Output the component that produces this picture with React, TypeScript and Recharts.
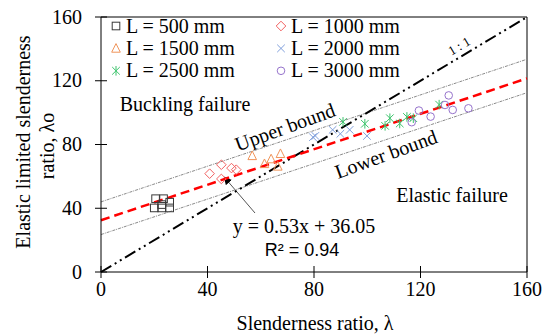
import * as React from "react";
import {
  ScatterChart,
  Scatter,
  XAxis,
  YAxis,
  ReferenceLine,
} from "recharts";

type Pt = [number, number];

// measured points, [slenderness ratio, elastic limited slenderness ratio]
const l500: Pt[] = [[20.5, 46], [23.5, 46], [20, 40.2], [22.8, 42.3], [25.8, 43.8], [25.8, 40.2], [22.8, 40.2]];
const l1000: Pt[] = [[40.8, 61.7], [45.2, 67.3], [45.2, 58.4], [49, 65.2], [50.8, 64.2]];
const l1500: Pt[] = [[56.8, 72.9], [61.4, 67.9], [63.9, 70.9], [67.4, 74.2], [66.4, 66.3]];
const l2000: Pt[] = [[79.6, 84.6], [80.5, 85.4], [87, 89.2], [89.9, 86.7], [93.4, 89.2], [99.9, 85.4]];
const l2500: Pt[] = [[90.9, 94.2], [99.1, 93], [106.7, 91.7], [108.5, 96.5], [112.2, 93.2], [114.9, 97.3], [117.3, 96.5], [127, 105]];
const l3000: Pt[] = [[116.7, 94], [119.4, 101.3], [123.8, 97.5], [129.2, 104.8], [130.6, 110.8], [132.1, 101.7], [138, 102.7]];

// lines as drawn in the figure
const oneToOne: Pt[] = [[0, 0], [160, 160]];
const fitLine: Pt[] = [[0, 32.5], [160, 121.5]];
const upperBound: Pt[] = [[0, 44], [160, 133.5]];
const lowerBound: Pt[] = [[0, 23.5], [160, 112.5]];

const xTicks = [0, 40, 80, 120, 160];
const yTicks = [0, 40, 80, 120, 160];

const serif = "'Liberation Serif', 'Times New Roman', serif";

const toData = (pts: Pt[]) => pts.map(([x, y]) => ({ x, y }));
const seg = (pts: Pt[]) => pts.map(([x, y]) => ({ x, y }));

type MarkerKind = "square" | "diamond" | "triangle" | "cross" | "star" | "circle";

function Marker({ kind, cx, cy, color }: { kind: MarkerKind; cx: number; cy: number; color: string }) {
  const r = 3.8;
  const common = { fill: "none", stroke: color, strokeWidth: 1 };
  switch (kind) {
    case "square":
      return <rect x={cx - r} y={cy - r} width={r * 2} height={r * 2} {...common} />;
    case "diamond":
      return (
        <polygon
          points={`${cx},${cy - r - 1} ${cx + r + 1},${cy} ${cx},${cy + r + 1} ${cx - r - 1},${cy}`}
          {...common}
        />
      );
    case "triangle":
      return (
        <polygon points={`${cx},${cy - r - 1} ${cx + r + 0.5},${cy + r} ${cx - r - 0.5},${cy + r}`} {...common} />
      );
    case "cross":
      return (
        <g {...common}>
          <line x1={cx - r} y1={cy - r} x2={cx + r} y2={cy + r} />
          <line x1={cx - r} y1={cy + r} x2={cx + r} y2={cy - r} />
        </g>
      );
    case "star":
      return (
        <g {...common}>
          <line x1={cx - r} y1={cy - r} x2={cx + r} y2={cy + r} />
          <line x1={cx - r} y1={cy + r} x2={cx + r} y2={cy - r} />
          <line x1={cx} y1={cy - r - 1} x2={cx} y2={cy + r + 1} />
        </g>
      );
    default:
      return <circle cx={cx} cy={cy} r={r} {...common} />;
  }
}

const series: { name: string; data: Pt[]; kind: MarkerKind; color: string }[] = [
  { name: "L = 500 mm", data: l500, kind: "square", color: "#3a3a3a" },
  { name: "L = 1000 mm", data: l1000, kind: "diamond", color: "#f26060" },
  { name: "L = 1500 mm", data: l1500, kind: "triangle", color: "#f0945a" },
  { name: "L = 2000 mm", data: l2000, kind: "cross", color: "#7f9fdc" },
  { name: "L = 2500 mm", data: l2500, kind: "star", color: "#3cc46c" },
  { name: "L = 3000 mm", data: l3000, kind: "circle", color: "#9673cc" },
];

function XTick(props: any) {
  const { x, y, payload } = props;
  return (
    <g>
      <line x1={x} x2={x} y1={y - 6} y2={y + 6} stroke="#000" />
      <text x={x} y={y + 24} textAnchor="middle" fontSize={20} fontFamily={serif} fill="#000">
        {payload.value}
      </text>
    </g>
  );
}

function YTick(props: any) {
  const { x, y, payload } = props;
  return (
    <g>
      <line x1={x - 6} x2={x + 6} y1={y} y2={y} stroke="#000" />
      <text x={x - 19} y={y + 6.6} textAnchor="end" fontSize={20} fontFamily={serif} fill="#000">
        {payload.value}
      </text>
    </g>
  );
}

export default function App() {
  return (
    <div style={{ position: "absolute", left: 0, top: 0, width: 550, height: 334, background: "#fff" }}>
      <ScatterChart width={550} height={334} margin={{ top: 17, right: 23, bottom: 0, left: 0 }}>
        <defs>
          <marker id="arrowHead" markerWidth="8" markerHeight="8" refX="6" refY="4" orient="auto">
            <path d="M0,0 L8,4 L0,8 z" fill="#000" />
          </marker>
        </defs>
        <XAxis
          type="number"
          dataKey="x"
          domain={[0, 160]}
          ticks={xTicks}
          height={62}
          tickSize={0}
          tickMargin={0}
          tick={<XTick />}
          axisLine={{ stroke: "#000" }}
          allowDataOverflow
        />
        <YAxis
          type="number"
          dataKey="y"
          domain={[0, 160]}
          ticks={yTicks}
          width={101}
          tickSize={0}
          tickMargin={0}
          tick={<YTick />}
          axisLine={{ stroke: "#000" }}
          allowDataOverflow
        />
        <ReferenceLine y={160} stroke="#000" />
        <ReferenceLine x={160} stroke="#000" />
        <ReferenceLine segment={seg(upperBound)} stroke="#8a8a8a" strokeWidth={1} strokeDasharray="3 1 1 1" />
        <ReferenceLine segment={seg(lowerBound)} stroke="#8a8a8a" strokeWidth={1} strokeDasharray="3 1 1 1" />
        <ReferenceLine segment={seg(oneToOne)} stroke="#000" strokeWidth={2} strokeDasharray="12 4 2 4 2 4" />
        <ReferenceLine segment={seg(fitLine)} stroke="#ff0000" strokeWidth={2.5} strokeDasharray="9 5" />
        {series.map((s) => (
          <Scatter
            key={s.name}
            name={s.name}
            data={toData(s.data)}
            isAnimationActive={false}
            shape={(p: any) => <Marker kind={s.kind} cx={p.cx} cy={p.cy} color={s.color} />}
          />
        ))}

        {/* legend */}
        {series.map((s, i) => {
          const col = i % 2;
          const row = Math.floor(i / 2);
          const sx = col === 0 ? 116 : 281;
          const cy = 26 + row * 22.4;
          return (
            <g key={"lg" + s.name}>
              <Marker kind={s.kind} cx={sx} cy={cy} color={s.color} />
              <text x={sx + 10} y={cy + 6.6} fontSize={20} fontFamily={serif} fill="#000">
                {s.name}
              </text>
            </g>
          );
        })}

        {/* annotations */}
        <text x={459} y={46} fontSize={13} fontFamily={serif} textAnchor="middle" dominantBaseline="central" transform="rotate(-31 459 46)">
          1 : 1
        </text>
        <text x={185} y={111} fontSize={20} fontFamily={serif} textAnchor="middle">Buckling failure</text>
        <text x={285} y={127} fontSize={20} fontFamily={serif} textAnchor="middle" dominantBaseline="central" transform="rotate(-20 285 127)">
          Upper bound
        </text>
        <text x={386} y={154} fontSize={20} fontFamily={serif} textAnchor="middle" dominantBaseline="central" transform="rotate(-20 386 154)">
          Lower bound
        </text>
        <text x={452} y={202} fontSize={20} fontFamily={serif} textAnchor="middle">Elastic failure</text>
        <line x1={255} y1={213} x2={225} y2={178} stroke="#555" strokeWidth={1} markerEnd="url(#arrowHead)" />
        <text x={304} y={233} fontSize={20} fontFamily={serif} textAnchor="middle">y = 0.53x + 36.05</text>
        <text x={302} y={256} fontSize={18} fontFamily="'Liberation Sans', Arial, sans-serif" textAnchor="middle">R² = 0.94</text>

        {/* axis titles */}
        <text x={315} y={330} fontSize={20} fontFamily={serif} textAnchor="middle">Slenderness ratio, λ</text>
        <text x={23} y={142} fontSize={20} fontFamily={serif} textAnchor="middle" dominantBaseline="central" transform="rotate(-90 23 142)">
          Elastic limited slenderness
        </text>
        <text x={47} y={146} fontSize={20} fontFamily={serif} textAnchor="middle" dominantBaseline="central" transform="rotate(-90 47 146)">
          ratio, λo
        </text>
      </ScatterChart>
    </div>
  );
}
